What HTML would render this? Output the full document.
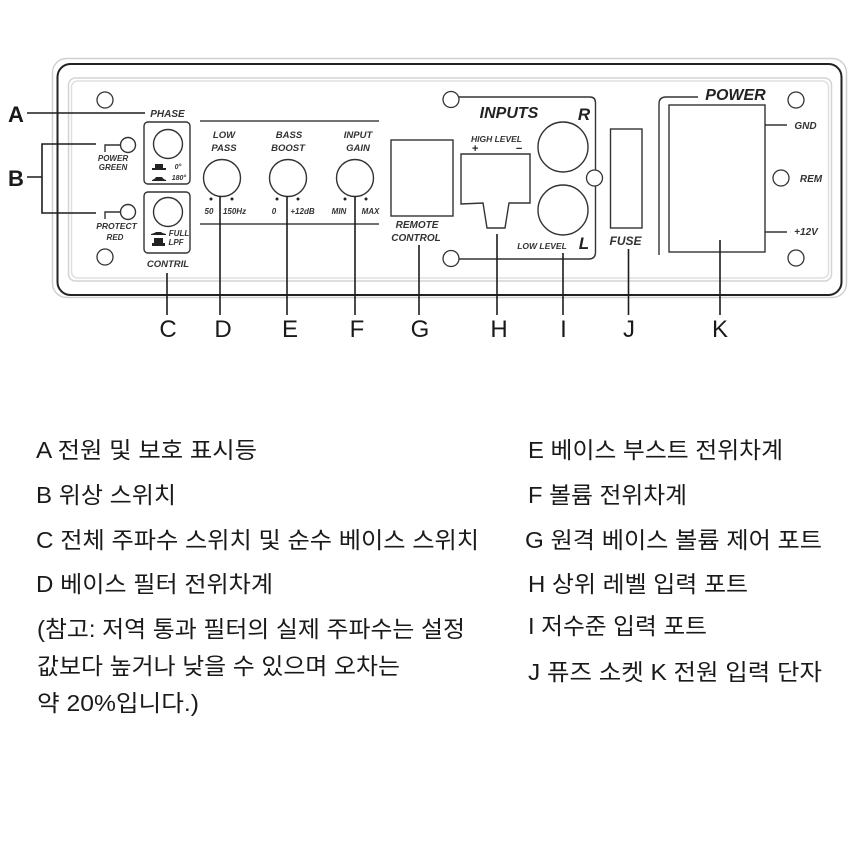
<!DOCTYPE html>
<html lang="ko"><head><meta charset="utf-8"><style>
html,body{margin:0;padding:0;background:#fff}
svg{display:block}
.l{font-family:"Liberation Sans",sans-serif;font-size:24px;fill:#1a1a1a;text-anchor:middle}
.b{font-family:"Liberation Sans",sans-serif;font-size:8px;font-weight:700;font-style:italic;fill:#333;text-anchor:middle}
.t{font-family:"Liberation Sans","Noto Sans CJK KR",sans-serif;font-size:23px;fill:#1a1a1a}
</style></head><body>
<svg xmlns="http://www.w3.org/2000/svg" width="860" height="860" viewBox="0 0 860 860">
<rect width="860" height="860" fill="#fff"/>
<g fill="none">
<rect x="52.5" y="58.5" width="794" height="239" rx="14" stroke="#d0d0d0" stroke-width="1.5"/>
<rect x="57.5" y="64" width="784" height="231" rx="13" stroke="#222" stroke-width="2"/>
<rect x="68.5" y="78" width="763" height="203" rx="7" stroke="#d4d4d4" stroke-width="1.5"/>
<rect x="71.5" y="81" width="757" height="197" rx="6" stroke="#e0e0e0" stroke-width="1.5"/>
</g>
<g fill="#fff" stroke="#333" stroke-width="1.3">
<circle cx="105" cy="100" r="8"/><circle cx="105" cy="257" r="8"/>
<circle cx="796" cy="100" r="8"/><circle cx="796" cy="258" r="8"/>
<circle cx="781" cy="178" r="8"/>
</g>
<g fill="none" stroke="#333" stroke-width="1.4">
<rect x="144" y="122" width="46" height="62" rx="4"/>
<rect x="144" y="192" width="46" height="61" rx="4"/>
<circle cx="168" cy="144" r="14.5"/><circle cx="168" cy="212" r="14.5"/>
<circle cx="128" cy="145" r="7.5"/><circle cx="128" cy="212" r="7.5"/>
<path d="M105 152V145H120M105 219V212H120"/>
<circle cx="222" cy="178" r="18.5"/><circle cx="288" cy="178" r="18.5"/><circle cx="355" cy="178" r="18.5"/>
<path d="M200 121H379M200 224H379" stroke="#444"/>
<rect x="391" y="140" width="62" height="76"/>
<path d="M459 97H590Q595.5 97 595.5 103V252Q595.5 259 589 259H459"/>
<circle cx="563" cy="147" r="25"/><circle cx="563" cy="210" r="25"/>
<path d="M461 204V154H530V203H509L505 228H487L483 203Z"/>
<rect x="610.5" y="129" width="31.5" height="99"/>
<path d="M698 97H666Q659 97 659 104V255"/>
<rect x="669" y="105" width="96" height="147"/>
<path d="M765 125H787M765 232H787"/>
</g>
<g fill="#fff" stroke="#333" stroke-width="1.3">
<circle cx="451" cy="99.5" r="8"/><circle cx="451" cy="258.5" r="8"/><circle cx="594.5" cy="178" r="8"/>
</g>
<g fill="#222">
<path d="M155 164h8v4h3v2h-14v-2h3zM152 180q3-1 4-3h6q1 2 4 3v1h-14zM151 234q4-1 5-2h5q1 1 5 2v1h-15zM154 238h9v5h2v3h-13v-3h2z"/>
<circle cx="211" cy="199" r="1.5"/><circle cx="232" cy="199" r="1.5"/><circle cx="277" cy="199" r="1.5"/><circle cx="298" cy="199" r="1.5"/><circle cx="345" cy="199" r="1.5"/><circle cx="366" cy="199" r="1.5"/>
</g>
<g fill="none" stroke="#1d1d1d" stroke-width="1.6">
<path d="M27 113H145"/>
<path d="M27 177H42M96 144H42V213H96"/>
<path d="M167 273V315M220 196V315M287 196V315M355 196V315M419 245V315M497 234V315M563 253V315M628.5 249V315M720 240V315"/>
</g>
<g>
<text x="167.500" y="117" class="b" style="font-size:10px">PHASE</text>
<text x="168" y="267" class="b" style="font-size:9.5px">CONTRIL</text>
<text x="113" y="161" class="b">POWER</text><text x="113" y="170" class="b">GREEN</text>
<text x="116.5" y="229" class="b" style="font-size:8.5px">PROTECT</text><text x="115" y="240" class="b">RED</text>
<text x="178" y="169" class="b" style="font-size:7px">0°</text><text x="179" y="180" class="b" style="font-size:7px">180°</text>
<text x="179" y="236" class="b">FULL</text><text x="176" y="245" class="b">LPF</text>
<text x="224" y="138" class="b" style="font-size:9.5px">LOW</text><text x="224" y="151" class="b" style="font-size:9.5px">PASS</text>
<text x="289" y="138" class="b" style="font-size:9.5px">BASS</text><text x="288" y="151" class="b" style="font-size:9.5px">BOOST</text>
<text x="358" y="138" class="b" style="font-size:9.5px">INPUT</text><text x="358" y="151" class="b" style="font-size:9.5px">GAIN</text>
<text x="209" y="214" class="b" style="font-size:8px">50</text><text x="234.5" y="214" class="b" style="font-size:8px">150Hz</text>
<text x="274" y="214" class="b" style="font-size:8px">0</text><text x="302.5" y="214" class="b" style="font-size:8px">+12dB</text>
<text x="339" y="214" class="b" style="font-size:8px">MIN</text><text x="370.5" y="214" class="b" style="font-size:8px">MAX</text>
<text x="417" y="228" class="b" style="font-size:10px">REMOTE</text><text x="416" y="241" class="b" style="font-size:10px">CONTROL</text>
<text x="509" y="118" class="b" style="font-size:16px;fill:#222">INPUTS</text>
<text x="584" y="120" class="b" style="font-size:17px;fill:#222">R</text>
<text x="584" y="249" class="b" style="font-size:17px;fill:#222">L</text>
<text x="496.5" y="142" class="b" style="font-size:8.5px">HIGH LEVEL</text>
<text x="475" y="152" class="b" style="font-size:11px;fill:#222">+</text><text x="519" y="152" class="b" style="font-size:11px;fill:#222">−</text>
<text x="542" y="249" class="b" style="font-size:8.5px">LOW  LEVEL</text>
<text x="625.5" y="245" class="b" style="font-size:12px">FUSE</text>
<text x="735.5" y="100" class="b" style="font-size:16px;fill:#222">POWER</text>
<text x="805.5" y="129" class="b" style="font-size:10px">GND</text><text x="811" y="182" class="b" style="font-size:10px">REM</text><text x="806" y="235" class="b" style="font-size:10px">+12V</text>
</g>
<text x="16" y="122" class="l" style="font-size:22px;font-weight:700">A</text>
<text x="16" y="186" class="l" style="font-size:22px;font-weight:700">B</text>
<text x="168" y="337" class="l">C</text><text x="223" y="337" class="l">D</text><text x="290" y="337" class="l">E</text><text x="357" y="337" class="l">F</text><text x="420" y="337" class="l">G</text><text x="499" y="337" class="l">H</text><text x="563.5" y="337" class="l">I</text><text x="629" y="337" class="l">J</text><text x="720" y="337" class="l">K</text>
<g>
<text class="t" x="36" y="458" textLength="221" lengthAdjust="spacingAndGlyphs">A 전원 및 보호 표시등</text>
<text class="t" x="36" y="503" textLength="140" lengthAdjust="spacingAndGlyphs">B 위상 스위치</text>
<text class="t" x="36" y="548" textLength="443" lengthAdjust="spacingAndGlyphs">C 전체 주파수 스위치 및 순수 베이스 스위치</text>
<text class="t" x="36" y="592" textLength="237" lengthAdjust="spacingAndGlyphs">D 베이스 필터 전위차계</text>
<text class="t" x="37" y="637" textLength="428" lengthAdjust="spacingAndGlyphs">(참고: 저역 통과 필터의 실제 주파수는 설정</text>
<text class="t" x="37" y="674" textLength="363" lengthAdjust="spacingAndGlyphs">값보다 높거나 낮을 수 있으며 오차는</text>
<text class="t" x="37" y="711" textLength="162" lengthAdjust="spacingAndGlyphs">약 20%입니다.)</text>
<text class="t" x="528" y="458" textLength="255" lengthAdjust="spacingAndGlyphs">E 베이스 부스트 전위차계</text>
<text class="t" x="528" y="503" textLength="159" lengthAdjust="spacingAndGlyphs">F 볼륨 전위차계</text>
<text class="t" x="525" y="548" textLength="297" lengthAdjust="spacingAndGlyphs">G 원격 베이스 볼륨 제어 포트</text>
<text class="t" x="528" y="592" textLength="220" lengthAdjust="spacingAndGlyphs">H 상위 레벨 입력 포트</text>
<text class="t" x="528" y="634" textLength="179" lengthAdjust="spacingAndGlyphs">I 저수준 입력 포트</text>
<text class="t" x="528" y="680" textLength="294" lengthAdjust="spacingAndGlyphs">J 퓨즈 소켓 K 전원 입력 단자</text>
</g>
</svg>
</body></html>
